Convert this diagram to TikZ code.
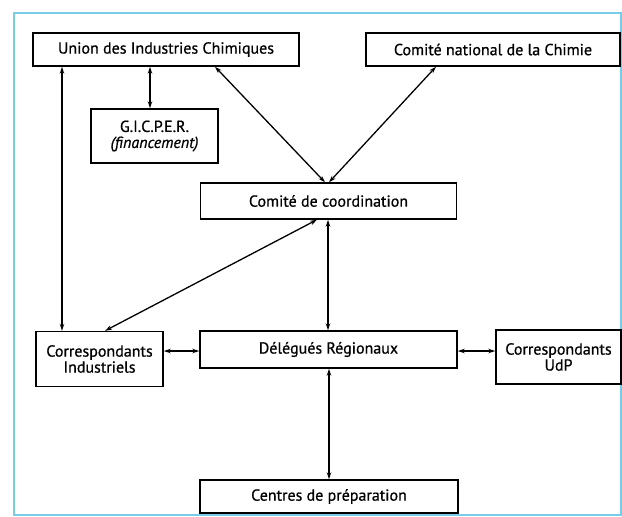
\documentclass[tikz,border=0pt]{standalone}
\usepackage{fontspec}
\setmainfont{PT Sans}
\newfontfamily\boxfont[FakeBold=0.7]{PT Sans}
\usetikzlibrary{arrows.meta}
\definecolor{framecol}{RGB}{120,205,230}
\tikzset{
  box/.style={draw=black, line width=1.4pt, fill=white, inner sep=2pt, align=center, font=\boxfont\fontsize{16}{18}\selectfont},
  link/.style={line width=1.3pt, {Stealth[length=7pt,width=4.5pt]}-{Stealth[length=7pt,width=4.5pt]}}
}
\begin{document}
\begin{tikzpicture}[x=1pt,y=-1pt]
\useasboundingbox (0,0) rectangle (622,517);
\draw[framecol, line width=1.3pt] (14,13) rectangle (621,515);
\node[box, minimum width=266pt, minimum height=33pt] (uic) at (166,49.5) {Union des Industries Chimiques};
\node[box, minimum width=254pt, minimum height=33pt] (cnc) at (493,49.5) {Comité national de la Chimie};
\node[box, minimum width=127pt, minimum height=54pt] (gic) at (154.5,136) {G.I.C.P.E.R.\\[-2pt] \textit{(financement)}};
\node[box, minimum width=256pt, minimum height=36pt] (coord) at (328.5,201) {Comité de coordination};
\node[box, minimum width=127pt, minimum height=55pt] (cind) at (99.5,359) {Correspondants\\[-2pt] Industriels};
\node[box, minimum width=257pt, minimum height=37pt] (deleg) at (328.5,349.5) {Délégués Régionaux};
\node[box, minimum width=125pt, minimum height=54pt] (udp) at (558.5,357) {Correspondants\\[-2pt] UdP};
\node[box, minimum width=258pt, minimum height=33pt] (centres) at (329,496.5) {Centres de préparation};

\draw[link] (uic.south -| 62,0) -- (cind.north -| 62,0);
\draw[link] (uic.south -| 150,0) -- (gic.north -| 150,0);
\draw[link] (uic.south -| 215,0) -- (coord.north -| 325,0);
\draw[link] (cnc.south -| 436,0) -- (coord.north -| 329,0);
\draw[link] (coord.south -| 317,0) -- (cind.north -| 105,0);
\draw[link] (coord.south -| 328,0) -- (deleg.north -| 328,0);
\draw[link] (cind.east |- 0,351) -- (deleg.west |- 0,351);
\draw[link] (deleg.east |- 0,351) -- (udp.west |- 0,351);
\draw[link] (deleg.south -| 329,0) -- (centres.north -| 329,0);
\end{tikzpicture}
\end{document}
